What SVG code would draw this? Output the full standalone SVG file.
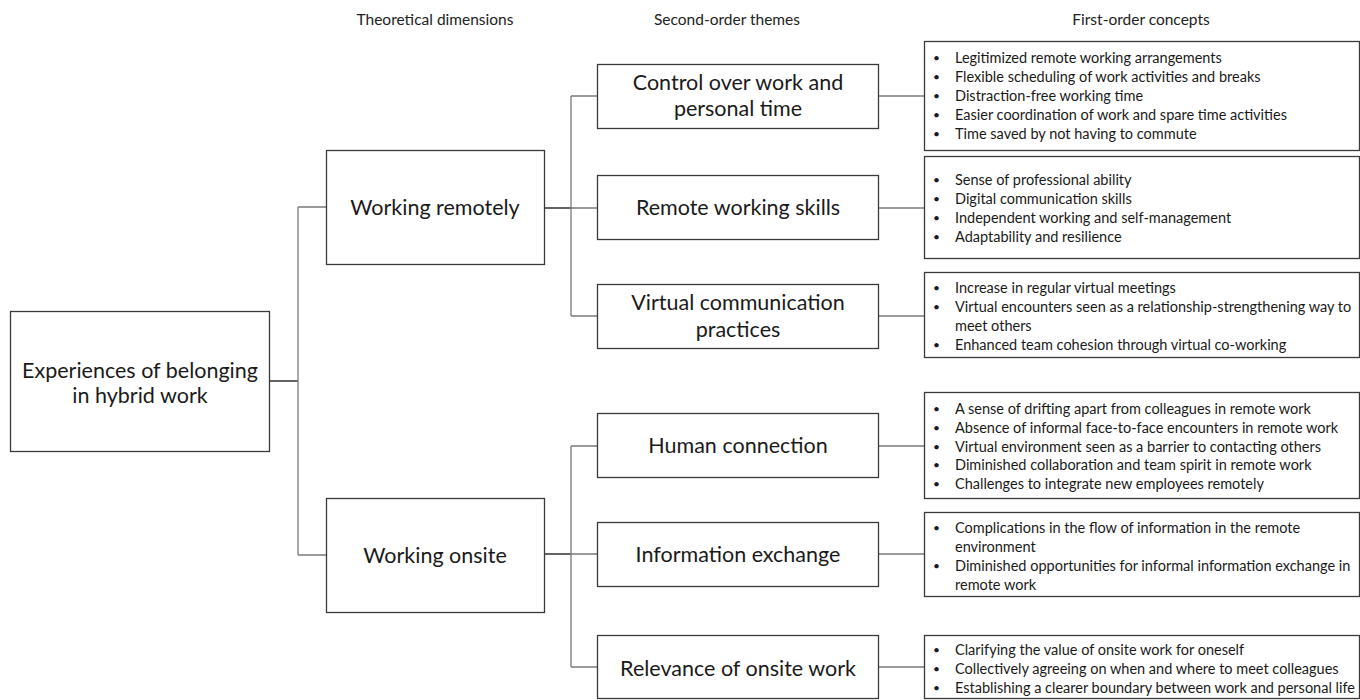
<svg xmlns="http://www.w3.org/2000/svg" width="1360" height="700" viewBox="0 0 1360 700">
<style>
.box{fill:#fff;stroke:#3a3a3a;stroke-width:1.3}
.hd{font-family:Lato,"Open Sans","Liberation Sans",sans-serif;font-size:15.5px;fill:#222;text-anchor:middle}
.nt{font-family:Lato,"Open Sans","Liberation Sans",sans-serif;font-size:21.5px;fill:#1a1a1a;text-anchor:middle}
.ft{font-family:Lato,"Open Sans","Liberation Sans",sans-serif;font-size:14.5px;fill:#1a1a1a}
.bl{font-family:Lato,"Open Sans","Liberation Sans",sans-serif;font-size:12px;fill:#1a1a1a}
.c{fill:none;stroke:#7a7a7a;stroke-width:1.3}
.cd{fill:none;stroke:#222;stroke-width:1.4}
</style>
<rect width="1360" height="700" fill="#fff"/>
<g id="headers">
<text class="hd" x="435" y="25">Theoretical dimensions</text>
<text class="hd" x="727" y="25">Second-order themes</text>
<text class="hd" x="1141" y="25">First-order concepts</text>
</g>
<g id="connectors">
<path class="cd" d="M270 381H298"/>
<path class="c" d="M298 207V555M298 207H326M298 555H326"/>
<path class="cd" d="M544 208H571"/>
<path class="c" d="M571 96V316M571 96H597M571 208H597M571 316H597"/>
<path class="cd" d="M544 554H571"/>
<path class="c" d="M571 446V667M571 446H597M571 554H597M571 667H597"/>
<path class="c" d="M878 96H924M878 208H924M878 316H924M878 446H924M878 554H924M878 667H924"/>
</g>
<g id="root">
<rect class="box" x="10.5" y="311.5" width="259" height="140"/>
<text class="nt" x="140" y="378">Experiences of belonging</text>
<text class="nt" x="140" y="403">in hybrid work</text>
</g>
<g id="dim-remote">
<rect class="box" x="326.5" y="150.5" width="218" height="114"/>
<text class="nt" x="435" y="215">Working remotely</text>
</g>
<g id="dim-onsite">
<rect class="box" x="326.5" y="498.5" width="218" height="114"/>
<text class="nt" x="435" y="563">Working onsite</text>
</g>
<g id="theme-control">
<rect class="box" x="597.5" y="64.5" width="281" height="64"/>
<text class="nt" x="738" y="90">Control over work and</text>
<text class="nt" x="738" y="116">personal time</text>
</g>
<g id="theme-skills">
<rect class="box" x="597.5" y="175.5" width="281" height="64"/>
<text class="nt" x="738" y="215">Remote working skills</text>
</g>
<g id="theme-virtual">
<rect class="box" x="597.5" y="284.5" width="281" height="64"/>
<text class="nt" x="738" y="310">Virtual communication</text>
<text class="nt" x="738" y="337">practices</text>
</g>
<g id="theme-human">
<rect class="box" x="597.5" y="413.5" width="281" height="64"/>
<text class="nt" x="738" y="453">Human connection</text>
</g>
<g id="theme-info">
<rect class="box" x="597.5" y="522.5" width="281" height="64"/>
<text class="nt" x="738" y="562">Information exchange</text>
</g>
<g id="theme-relevance">
<rect class="box" x="597.5" y="635.5" width="281" height="63"/>
<text class="nt" x="738" y="676">Relevance of onsite work</text>
</g>
<g id="concepts-control">
<rect class="box" x="924.5" y="41.5" width="435" height="109"/>
<text class="bl" x="933" y="62">•</text><text class="ft" x="955" y="63">Legitimized remote working arrangements</text>
<text class="bl" x="933" y="81">•</text><text class="ft" x="955" y="82">Flexible scheduling of work activities and breaks</text>
<text class="bl" x="933" y="100">•</text><text class="ft" x="955" y="101">Distraction-free working time</text>
<text class="bl" x="933" y="119">•</text><text class="ft" x="955" y="120">Easier coordination of work and spare time activities</text>
<text class="bl" x="933" y="138">•</text><text class="ft" x="955" y="139">Time saved by not having to commute</text>
</g>
<g id="concepts-skills">
<rect class="box" x="924.5" y="156.5" width="435" height="102"/>
<text class="bl" x="933" y="184">•</text><text class="ft" x="955" y="185">Sense of professional ability</text>
<text class="bl" x="933" y="203">•</text><text class="ft" x="955" y="204">Digital communication skills</text>
<text class="bl" x="933" y="222">•</text><text class="ft" x="955" y="223">Independent working and self-management</text>
<text class="bl" x="933" y="241">•</text><text class="ft" x="955" y="242">Adaptability and resilience</text>
</g>
<g id="concepts-virtual">
<rect class="box" x="924.5" y="272.5" width="435" height="85"/>
<text class="bl" x="933" y="292">•</text><text class="ft" x="955" y="293">Increase in regular virtual meetings</text>
<text class="bl" x="933" y="311">•</text><text class="ft" x="955" y="312">Virtual encounters seen as a relationship-strengthening way to</text>
<text class="ft" x="955" y="331">meet others</text>
<text class="bl" x="933" y="349">•</text><text class="ft" x="955" y="350">Enhanced team cohesion through virtual co-working</text>
</g>
<g id="concepts-human">
<rect class="box" x="924.5" y="392.5" width="435" height="106"/>
<text class="bl" x="933" y="413">•</text><text class="ft" x="955" y="414">A sense of drifting apart from colleagues in remote work</text>
<text class="bl" x="933" y="432">•</text><text class="ft" x="955" y="433">Absence of informal face-to-face encounters in remote work</text>
<text class="bl" x="933" y="451">•</text><text class="ft" x="955" y="452">Virtual environment seen as a barrier to contacting others</text>
<text class="bl" x="933" y="469">•</text><text class="ft" x="955" y="470">Diminished collaboration and team spirit in remote work</text>
<text class="bl" x="933" y="488">•</text><text class="ft" x="955" y="489">Challenges to integrate new employees remotely</text>
</g>
<g id="concepts-info">
<rect class="box" x="924.5" y="512.5" width="435" height="84"/>
<text class="bl" x="933" y="532">•</text><text class="ft" x="955" y="533">Complications in the flow of information in the remote</text>
<text class="ft" x="955" y="552">environment</text>
<text class="bl" x="933" y="570">•</text><text class="ft" x="955" y="571">Diminished opportunities for informal information exchange in</text>
<text class="ft" x="955" y="590">remote work</text>
</g>
<g id="concepts-relevance">
<rect class="box" x="924.5" y="635.5" width="435" height="63"/>
<text class="bl" x="933" y="654">•</text><text class="ft" x="955" y="655">Clarifying the value of onsite work for oneself</text>
<text class="bl" x="933" y="673">•</text><text class="ft" x="955" y="674">Collectively agreeing on when and where to meet colleagues</text>
<text class="bl" x="933" y="692">•</text><text class="ft" x="955" y="693">Establishing a clearer boundary between work and personal life</text>
</g>
</svg>
